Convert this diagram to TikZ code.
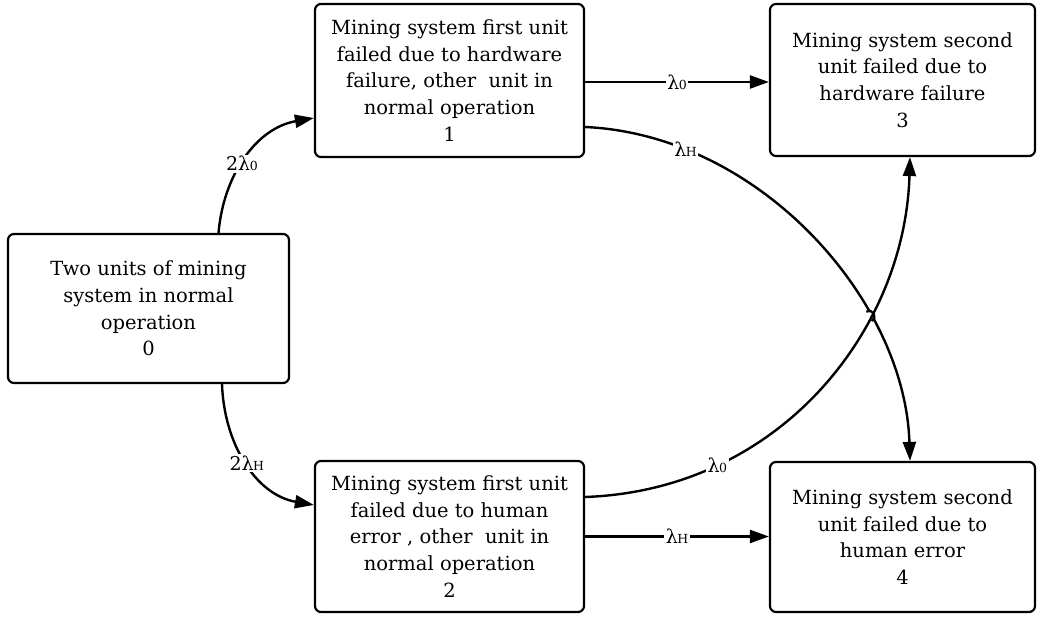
\documentclass[tikz,border=0pt]{standalone}
\usepackage{fontspec}
\setmainfont{DejaVu Serif}
\usetikzlibrary{arrows.meta,calc,intersections}
\tikzset{
  state/.style={draw, line width=2.2pt, rounded corners=6pt, align=center,
    inner sep=0pt, font=\fontsize{19.5}{26.6}\selectfont},
  trans/.style={line width=2.4pt, -{Triangle[length=19pt,width=13pt]}},
  rate/.style={fill=white, inner sep=1.5pt, font=\fontsize{19}{20}\selectfont},
}
\newcommand{\lamsub}[1]{λ\kern-0.5pt{\fontsize{12.5}{14}\selectfont #1}}
\begin{document}
\begin{tikzpicture}[x=1pt,y=1pt]
\useasboundingbox (0,0) rectangle (1041,616);

\node[state, minimum width=281pt, minimum height=149pt] (b0) at (148.5,307.5)
  {Two units of mining\\system in normal\\operation\\0};
\node[state, minimum width=269pt, minimum height=153pt] (b1) at (449.5,535.5)
  {Mining system first unit\\failed due to hardware\\failure, other\ \ unit in\\normal operation\\1};
\node[state, minimum width=269pt, minimum height=151pt] (b2) at (449.5,79.5)
  {Mining system first unit\\failed due to human\\error , other\ \ unit in\\normal operation\\2};
\node[state, minimum width=265pt, minimum height=152pt] (b3) at (902.5,536)
  {Mining system second\\unit failed due to\\hardware failure\\3};
\node[state, minimum width=265pt, minimum height=150pt] (b4) at (902.5,79)
  {Mining system second\\unit failed due to\\human error\\4};

% transitions out of the initial state
\draw[trans] ([xshift=70pt]b0.north) to[out=85,in=190]
  node[rate,pos=0.45] {2\lamsub{0}} ([yshift=-37.5pt]b1.west);
\draw[trans] ([xshift=73.5pt]b0.south) to[out=-88,in=170]
  node[rate,pos=0.5] {2\lamsub{H}} ([yshift=31.5pt]b2.west);

% straight transitions
\draw[trans] ([yshift=-1.5pt]b1.east) -- node[rate] {\lamsub{0}}
  ([yshift=-1.5pt]b1.east -| b3.west);
\draw[trans] (b2.east) -- node[rate] {\lamsub{H}} (b2.east -| b4.west);

% crossing transitions; the first one hops over the second
\draw[trans, name path=oneFour] ([yshift=-46.5pt]b1.east) .. controls (760,481) and (905,316) ..
  node[rate,pos=0.2] {\lamsub{H}} ([xshift=7.5pt]b4.north);
\path[name path=twoThree] ([yshift=39.5pt]b2.east) .. controls (780,126) and (905,286) ..
  ([xshift=7.5pt]b3.south);
\path[name intersections={of=oneFour and twoThree, by=cross}];
\fill[white] (cross) circle[radius=5.5pt];
\draw[trans] ([yshift=39.5pt]b2.east) .. controls (780,126) and (905,286) ..
  node[rate,pos=0.25] {\lamsub{0}} ([xshift=7.5pt]b3.south);
\draw[line width=2.2pt] ($(cross)+(120:5.5)$) arc[start angle=120, end angle=-60, radius=5.5pt];
\end{tikzpicture}
\end{document}
